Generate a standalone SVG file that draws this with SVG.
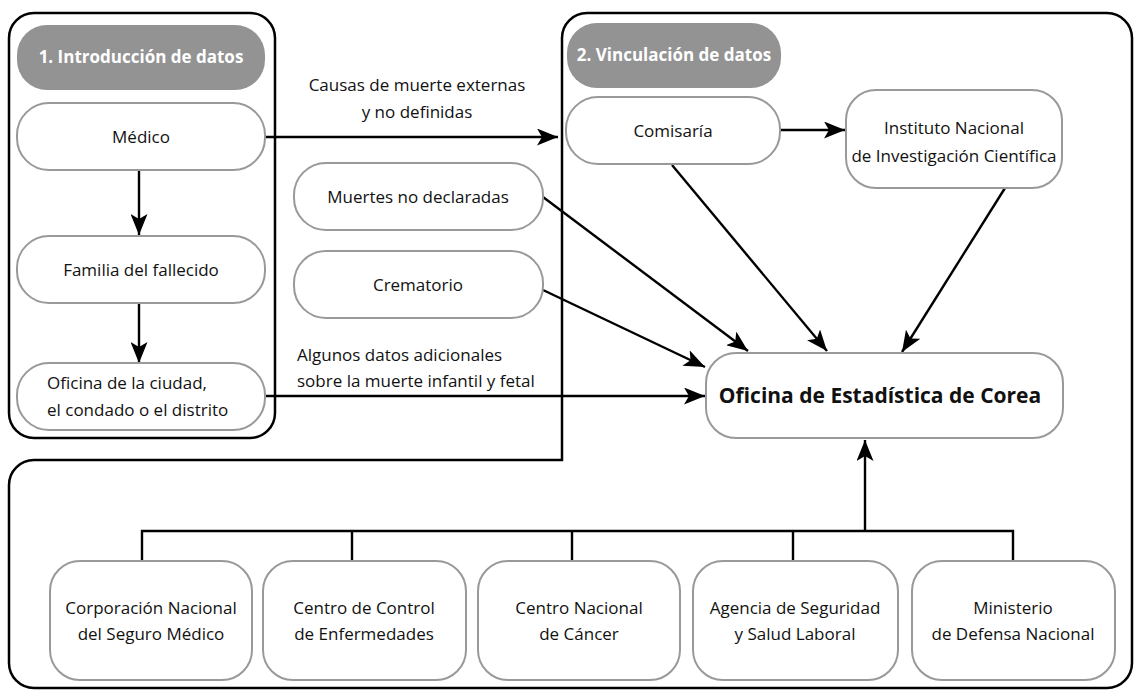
<svg xmlns="http://www.w3.org/2000/svg" width="1141" height="700" viewBox="0 0 1141 700">
<defs>
<style>
.frame{fill:none;stroke:#000;stroke-width:2.5}
.hdr{fill:#939393}
.hdrt{fill:#fff;font-family:"Open Sans","Noto Sans",sans-serif;font-weight:bold;font-size:17px;text-anchor:middle}
.node{fill:#fff;stroke:#999;stroke-width:2}
.t{fill:#111;font-family:"Open Sans","Noto Sans",sans-serif;font-size:17px;text-anchor:middle}
.tl{fill:#111;font-family:"Open Sans","Noto Sans",sans-serif;font-size:17px}
.big{fill:#111;font-family:"Open Sans","Noto Sans",sans-serif;font-size:21px;font-weight:bold;text-anchor:middle}
.c{fill:none;stroke:#000;stroke-width:2.4}
.ca{fill:none;stroke:#000;stroke-width:2.4;marker-end:url(#ah)}
</style>
<marker id="ah" markerUnits="userSpaceOnUse" markerWidth="23" markerHeight="17" refX="21" refY="8.5" orient="auto" viewBox="0 0 23 17">
<path d="M0,0 L21,8.5 L0,17 L5,8.5 Z" fill="#000"/>
</marker>
</defs>
<rect width="1141" height="700" fill="#fff"/>

<g id="frames">
<rect class="frame" x="9" y="13" width="266" height="425" rx="25"/>
<path class="frame" d="M587,13 H1107 A25,25 0 0 1 1132,38 V663 A25,25 0 0 1 1107,688 H34 A25,25 0 0 1 9,663 V485 A25,25 0 0 1 34,460 H562 V38 A25,25 0 0 1 587,13 Z"/>
</g>

<g id="header1">
<rect class="hdr" x="17" y="25" width="248" height="65" rx="30"/>
<text class="hdrt" x="141" y="63">1. Introducción de datos</text>
</g>
<g id="header2">
<rect class="hdr" x="567" y="23" width="214" height="65" rx="30"/>
<text class="hdrt" x="674" y="61">2. Vinculación de datos</text>
</g>

<g id="connectors">
<line class="ca" x1="139" y1="170" x2="139" y2="235"/>
<line class="ca" x1="139" y1="303" x2="139" y2="363"/>
<line class="ca" x1="265" y1="137" x2="558" y2="137"/>
<line class="ca" x1="780" y1="130" x2="845" y2="130"/>
<line class="ca" x1="543" y1="197" x2="748" y2="351"/>
<line class="ca" x1="543" y1="290" x2="705" y2="367"/>
<line class="ca" x1="672" y1="165" x2="827" y2="351"/>
<line class="ca" x1="1005" y1="188" x2="902" y2="352"/>
<line class="ca" x1="265" y1="396" x2="705" y2="396"/>
<path class="c" d="M142,561 V531 H1013 V561 M352,531 V561 M572,531 V561 M793,531 V561"/>
<line class="ca" x1="865" y1="531" x2="865" y2="440"/>
</g>

<g id="labels">
<text class="t" x="417" y="91">Causas de muerte externas</text>
<text class="t" x="417" y="118">y no definidas</text>
<text class="tl" x="297" y="361">Algunos datos adicionales</text>
<text class="tl" x="297" y="387">sobre la muerte infantil y fetal</text>
</g>

<g id="medico">
<rect class="node" x="17" y="103" width="248" height="67" rx="32"/>
<text class="t" x="141" y="143">Médico</text>
</g>
<g id="familia">
<rect class="node" x="17" y="236" width="248" height="67" rx="32"/>
<text class="t" x="141" y="276">Familia del fallecido</text>
</g>
<g id="oficina-ciudad">
<rect class="node" x="17" y="363" width="248" height="67" rx="32"/>
<text class="tl" x="47" y="389">Oficina de la ciudad,</text>
<text class="tl" x="47" y="416">el condado o el distrito</text>
</g>
<g id="muertes">
<rect class="node" x="294" y="163" width="249" height="67" rx="32"/>
<text class="t" x="418" y="203">Muertes no declaradas</text>
</g>
<g id="crematorio">
<rect class="node" x="294" y="251" width="249" height="67" rx="32"/>
<text class="t" x="418" y="291">Crematorio</text>
</g>
<g id="comisaria">
<rect class="node" x="566" y="97" width="214" height="67" rx="32"/>
<text class="t" x="673" y="137">Comisaría</text>
</g>
<g id="instituto">
<rect class="node" x="846" y="90" width="216" height="98" rx="30"/>
<text class="t" x="954" y="134">Instituto Nacional</text>
<text class="t" x="954" y="162">de Investigación Científica</text>
</g>
<g id="estadistica">
<rect class="node" x="706" y="353" width="357" height="85" rx="30"/>
<text class="big" x="880" y="403">Oficina de Estadística de Corea</text>
</g>

<g id="corporacion">
<rect class="node" x="50" y="561" width="202" height="119" rx="30"/>
<text class="t" x="151" y="614">Corporación Nacional</text>
<text class="t" x="151" y="640">del Seguro Médico</text>
</g>
<g id="control">
<rect class="node" x="263" y="561" width="203" height="119" rx="30"/>
<text class="t" x="364" y="614">Centro de Control</text>
<text class="t" x="364" y="640">de Enfermedades</text>
</g>
<g id="cancer">
<rect class="node" x="478" y="561" width="202" height="119" rx="30"/>
<text class="t" x="579" y="614">Centro Nacional</text>
<text class="t" x="579" y="640">de Cáncer</text>
</g>
<g id="agencia">
<rect class="node" x="693" y="561" width="205" height="119" rx="30"/>
<text class="t" x="795" y="614">Agencia de Seguridad</text>
<text class="t" x="795" y="640">y Salud Laboral</text>
</g>
<g id="ministerio">
<rect class="node" x="912" y="561" width="203" height="119" rx="30"/>
<text class="t" x="1013" y="614">Ministerio</text>
<text class="t" x="1013" y="640">de Defensa Nacional</text>
</g>
</svg>
